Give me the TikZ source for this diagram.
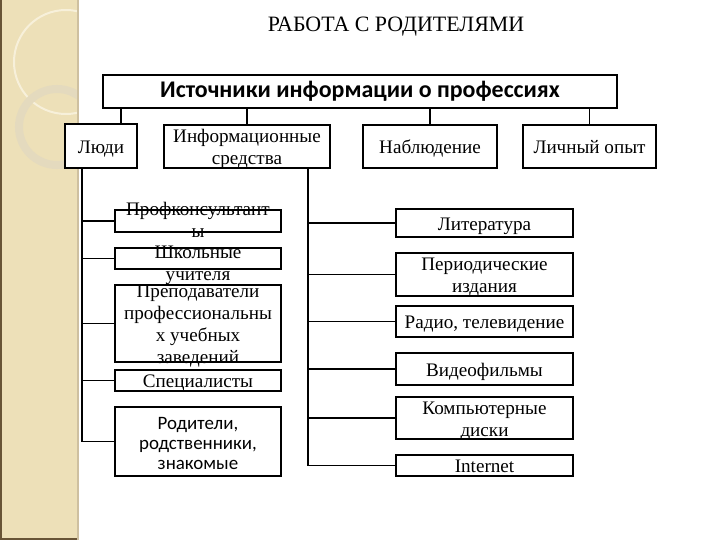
\documentclass[tikz,border=0pt]{standalone}
\usepackage{fontspec}
\setmainfont{Liberation Serif}
\newfontfamily\calib{Carlito}
\usepackage{tikz}
\usetikzlibrary{calc}
\definecolor{strip}{RGB}{237,224,184}
\definecolor{stripdark}{RGB}{104,84,54}
\definecolor{stripedge}{RGB}{206,192,160}
\definecolor{ringcol}{RGB}{228,218,190}
\definecolor{arccol}{RGB}{247,240,218}
\newcommand{\fitin}[2][-0.42em]{\smash{\raisebox{#1}{\begin{tabular}{@{}c@{}}#2\end{tabular}}}}
\tikzset{
  box/.style={draw, line width=1.8bp, inner sep=0pt, fill=white,
    font=\fontsize{19.2}{22}\selectfont},
  link/.style={line width=1.1bp}
}

\begin{document}
\begin{tikzpicture}[x=1bp,y=-1bp]
  \useasboundingbox[fill=white] (0,0) rectangle (720,540);
  % left strip
  \fill[strip] (0,0) rectangle (78,540);
  \begin{scope}
    \clip (0,0) rectangle (78,540);
    \draw[arccol, line width=2bp] (66,62) circle (52);
    \draw[ringcol, line width=8bp] (57,127) circle (38);
  \end{scope}
  \fill[stripdark] (0,0) rectangle (2,540);
  \fill[stripdark] (0,538) rectangle (78,540);
  \draw[stripedge, line width=1.5bp] (78,0) -- (78,540);

  \node[font=\fontsize{22}{26}\selectfont] (title) at (396,27) {РАБОТА С РОДИТЕЛЯМИ};

  \node[box, minimum width=514bp, minimum height=33bp,
    font=\calib\bfseries\fontsize{24}{26}\selectfont] (src) at (360,91.5)
    {Источники информации о профессиях};

  \node[box, minimum width=72bp, minimum height=44bp] (ppl) at (101,146) {\fitin{Люди}};
  \node[box, minimum width=166bp, minimum height=43bp] (media) at (247,146.5) {\fitin{Информационные\\средства}};
  \node[box, minimum width=134bp, minimum height=43bp] (obs) at (430,146.5) {\fitin{Наблюдение}};
  \node[box, minimum width=133bp, minimum height=43bp] (exp) at (589.5,146.5) {\fitin{Личный опыт}};

  \node[box, minimum width=166bp, minimum height=22bp] (cons) at (198,221) {\fitin[-0.34em]{Профконсультант\\ы}};
  \node[box, minimum width=166bp, minimum height=21bp] (tch) at (198,258.5) {\fitin[-0.6em]{Школьные\\учителя}};
  \node[box, minimum width=166bp, minimum height=77bp] (lect) at (198,323.5) {\fitin{Преподаватели\\профессиональны\\х учебных\\заведений}};
  \node[box, minimum width=166bp, minimum height=21bp] (spec) at (198,380.5) {\fitin{Специалисты}};
  \node[box, minimum width=166bp, minimum height=69bp, font=\calib\fontsize{19}{20}\selectfont] (par) at (198,441.5) {\fitin{Родители,\\родственники,\\знакомые}};

  \node[box, minimum width=177bp, minimum height=28bp] (lit) at (484.5,223) {\fitin{Литература}};
  \node[box, minimum width=177bp, minimum height=43bp] (per) at (484.5,274.5) {\fitin{Периодические\\издания}};
  \node[box, minimum width=177bp, minimum height=31bp] (rad) at (484.5,321.5) {\fitin{Радио, телевидение}};
  \node[box, minimum width=177bp, minimum height=32bp] (vid) at (484.5,369) {\fitin{Видеофильмы}};
  \node[box, minimum width=177bp, minimum height=42bp] (cd) at (484.5,418) {\fitin{Компьютерные\\диски}};
  \node[box, minimum width=177bp, minimum height=21bp] (web) at (484.5,465.5) {\fitin{Internet}};

  \coordinate (pplup) at ($(ppl.north)+(20,0)$);
  \draw[link] (src.south -| pplup) -- (pplup);
  \foreach \n in {media,obs,exp}
    \draw[link] (src.south -| \n.north) -- (\n.north);

  \coordinate (lbus) at (82,168);
  \draw[link] (lbus) |- (par.west);
  \foreach \n in {cons,tch,lect,spec}
    \draw[link] (lbus |- \n.west) -- (\n.west);

  \coordinate (rbus) at (308,168);
  \draw[link] (rbus) |- (web.west);
  \foreach \n in {lit,per,rad,vid,cd}
    \draw[link] (rbus |- \n.west) -- (\n.west);
\end{tikzpicture}
\end{document}
